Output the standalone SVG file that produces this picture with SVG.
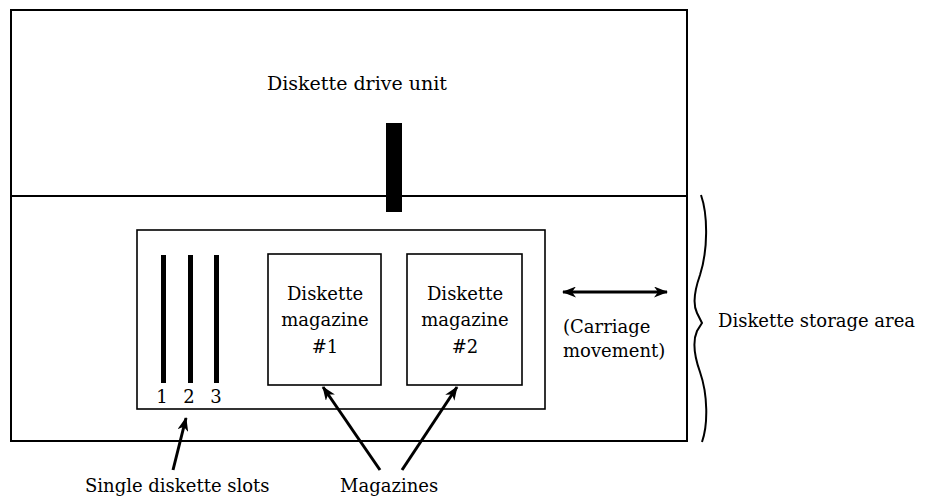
<svg xmlns="http://www.w3.org/2000/svg" width="928" height="500" viewBox="0 0 928 500">
  <defs>
    <pattern id="stipple" width="13" height="11" patternUnits="userSpaceOnUse">
      <rect width="13" height="11" fill="#fafafa"/>
      <rect x="2" y="3" width="1" height="1" fill="#bdbdbd"/>
      <rect x="8" y="1" width="1" height="1" fill="#cfcfcf"/>
      <rect x="10" y="7" width="1" height="1" fill="#c4c4c4"/>
      <rect x="5" y="9" width="1" height="1" fill="#d2d2d2"/>
    </pattern>
    <marker id="ah" viewBox="0 0 14 11" refX="13" refY="5.5" markerWidth="14" markerHeight="11" markerUnits="userSpaceOnUse" orient="auto-start-reverse">
      <path d="M0,0 L14,5.5 L0,11 L4,5.5 Z" fill="#000"/>
    </marker>
  </defs>
  <style>
    .ln { fill: none; stroke: #000; stroke-width: 2; }
    .thin { fill: none; stroke: #000; stroke-width: 1.6; }
    .t { font-family: "DejaVu Serif", "Liberation Serif", serif; font-size: 18px; fill: #000; }
    .c { text-anchor: middle; }
    .arrow { stroke: #000; stroke-width: 3; fill: none; marker-end: url(#ah); }
  </style>
  <rect width="928" height="500" fill="#fff"/>

  <g id="drive-unit">
    <rect x="11" y="10" width="676" height="186" fill="url(#stipple)" class="ln"/>
    <text class="t c" x="357" y="90" style="font-size:19px">Diskette drive unit</text>
  </g>

  <g id="storage-area">
    <rect x="11" y="196" width="676" height="245" class="ln"/>
  </g>

  <g id="drive-head">
    <rect x="386" y="123" width="16" height="89" fill="#000"/>
  </g>

  <g id="carriage">
    <rect x="137" y="230" width="408" height="179" class="thin"/>
  </g>

  <g id="slots">
    <rect x="161" y="255" width="5" height="128" fill="#000"/>
    <rect x="188" y="255" width="5" height="128" fill="#000"/>
    <rect x="214" y="255" width="5" height="128" fill="#000"/>
    <text class="t c" x="162" y="403">1</text>
    <text class="t c" x="189" y="403">2</text>
    <text class="t c" x="216" y="403">3</text>
  </g>

  <g id="magazine1">
    <rect x="268" y="254" width="113" height="131" class="thin"/>
    <text class="t c" x="325" y="300">Diskette</text>
    <text class="t c" x="325" y="326">magazine</text>
    <text class="t c" x="325" y="353">#1</text>
  </g>

  <g id="magazine2">
    <rect x="407" y="254" width="115" height="131" class="thin"/>
    <text class="t c" x="465" y="300">Diskette</text>
    <text class="t c" x="465" y="326">magazine</text>
    <text class="t c" x="465" y="353">#2</text>
  </g>

  <g id="carriage-movement">
    <text class="t" x="563" y="333">(Carriage</text>
    <text class="t" x="563" y="357">movement)</text>
  </g>

  <g id="storage-label">
    <path d="M701,195 C708,215 708,250 700,275 C694,292 693,305 697,313 L702,323 L697,331 C693,340 694,355 700,372 C708,395 708,425 702,442" fill="none" stroke="#000" stroke-width="2"/>
    <text class="t" x="718" y="327">Diskette storage area</text>
  </g>

  <g id="labels">
    <text class="t" x="85" y="492">Single diskette slots</text>
    <text class="t" x="340" y="492">Magazines</text>
  </g>

  <g id="connectors">
    <line x1="563" y1="292" x2="667" y2="292" stroke="#000" stroke-width="3" marker-start="url(#ah)" marker-end="url(#ah)"/>
    <line class="arrow" x1="173" y1="470" x2="186" y2="418"/>
    <line class="arrow" x1="380" y1="470" x2="323" y2="387"/>
    <line class="arrow" x1="402" y1="470" x2="457" y2="387"/>
  </g>
</svg>
